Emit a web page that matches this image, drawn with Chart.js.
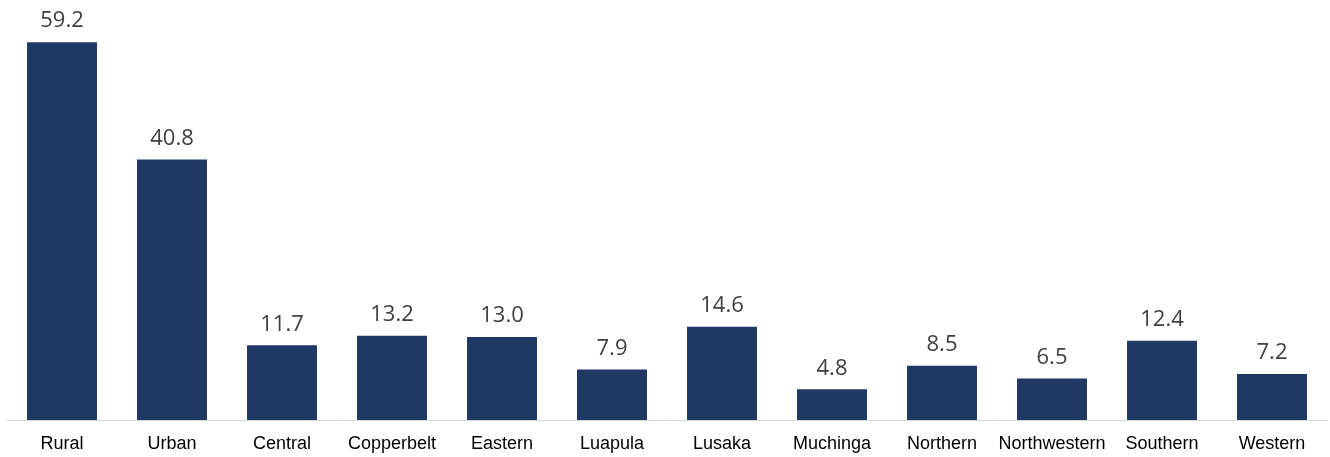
<!DOCTYPE html>
<html>
<head>
<meta charset="utf-8">
<script src="https://cdn.jsdelivr.net/npm/chart.js@4.4.0/dist/chart.umd.min.js"></script>
<style>
  html, body { margin: 0; padding: 0; background: #fff; }
  #wrap { width: 1330px; height: 457px; }
</style>
</head>
<body>
<div id="wrap"><canvas id="myChart" width="1330" height="457"></canvas></div>
<script>
var regions = ['Rural', 'Urban', 'Central', 'Copperbelt', 'Eastern', 'Luapula', 'Lusaka',
  'Muchinga', 'Northern', 'Northwestern', 'Southern', 'Western'];
var shares = [59.2, 40.8, 11.7, 13.2, 13.0, 7.9, 14.6, 4.8, 8.5, 6.5, 12.4, 7.2];

// value labels above each bar
var barLabels = {
  id: 'barLabels',
  afterDatasetsDraw: function (chart) {
    var ctx = chart.ctx;
    var meta = chart.getDatasetMeta(0);
    ctx.save();
    ctx.font = '22px "Open Sans"';
    ctx.fillStyle = '#404040';
    ctx.textAlign = 'center';
    ctx.textBaseline = 'middle';
    meta.data.forEach(function (bar, i) {
      ctx.fillText(shares[i].toFixed(1), bar.x, bar.y - 21);
    });
    ctx.restore();
  }
};

const ctx = document.getElementById('myChart').getContext('2d');
const myChart = new Chart(ctx, {
  type: 'bar',
  data: {
    labels: regions,
    datasets: [{
      data: shares,
      backgroundColor: '#203864',
      categoryPercentage: 1,
      barPercentage: 0.636
    }]
  },
  options: {
    responsive: false,
    animation: false,
    layout: { padding: { left: 7, right: 3, top: 0, bottom: 0 } },
    plugins: { legend: { display: false }, tooltip: { enabled: false } },
    scales: {
      x: {
        grid: { display: false, drawTicks: false },
        border: { display: true, color: '#d9d9d9', width: 1 },
        ticks: {
          color: '#000',
          padding: 13,
          autoSkip: false,
          maxRotation: 0,
          minRotation: 0,
          font: { family: '"Liberation Sans", Arial', size: 18 }
        },
        afterFit: function (scale) { scale.height = 37; }
      },
      y: {
        display: false,
        min: 0,
        max: 65.8
      }
    }
  },
  plugins: [barLabels]
});
</script>
</body>
</html>
